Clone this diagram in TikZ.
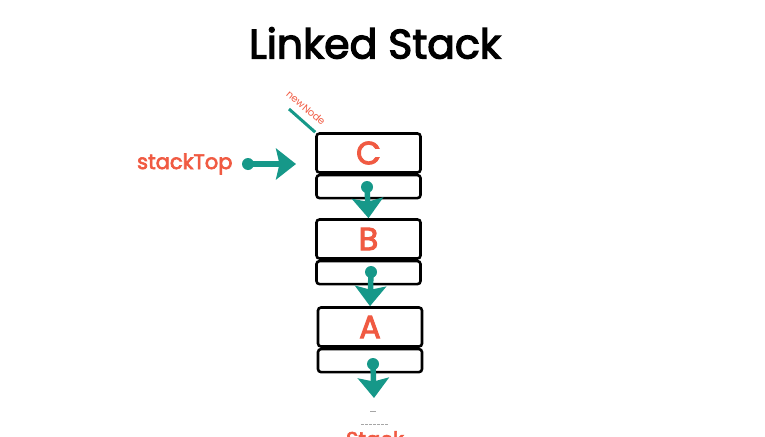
\documentclass[tikz,border=0pt]{standalone}
\usepackage{xcolor}
\usepackage{tikz}
\usepackage{fontspec}
\setmainfont{Poppins}
\newfontfamily\medfont{Poppins}[FakeBold=3]
\usetikzlibrary{positioning,arrows.meta,calc}

\definecolor{stackred}{RGB}{240,90,66}
\definecolor{stackteal}{RGB}{22,152,137}

\tikzset{
    datapart/.style={draw=black, line width=2.6pt, rounded corners=3pt, fill=white,
        minimum width=104pt, minimum height=39pt, inner sep=0pt,
        text=stackred, font=\fontsize{32}{32}\medfont},
    nextpart/.style={draw=black, line width=2.6pt, rounded corners=3pt, fill=white,
        minimum width=104pt, minimum height=23pt, inner sep=0pt},
    dot/.style={circle, fill=stackteal, minimum size=12pt, inner sep=0pt},
    link/.style={stackteal, line width=5.5pt, -{Stealth[width=31pt,length=20pt,inset=3.5pt]}},
}

\begin{document}
\begin{tikzpicture}[x=1pt, y=-1pt]
    \useasboundingbox (0,0) rectangle (765,436);
    \clip (0,0) rectangle (765,436);

    % Title
    \node[font=\fontsize{41}{41}\medfont] (title) at (375,43) {Linked Stack};

    % Node C (top of stack)
    \node[datapart] (nodec) at (368.5,153) {C};
    \node[nextpart, below=0pt of nodec] (nextc) {};
    % Node B
    \node[datapart] (nodeb) at (368.5,239) {B};
    \node[nextpart, below=0pt of nodeb] (nextb) {};
    % Node A
    \node[datapart] (nodea) at (370,327) {A};
    \node[nextpart, below=0pt of nodea] (nexta) {};

    % Next pointers
    \node[dot] (dotc) at (367,187) {};
    \node[dot] (dotb) at (371,272) {};
    \node[dot] (dota) at (373,364) {};
    \coordinate (nullend) at (374,398);
    \draw[link] (dotc.center) -- (nodeb.north);
    \draw[link] (dotb.center) -- (nodea.north);
    \draw[link] (dota.center) -- (nullend);

    % stackTop pointer
    \node[text=stackred, font=\fontsize{21}{21}\medfont, anchor=east] (stacktop) at (236,164) {stackTop};
    \node[dot] (topdot) at (248,164) {};
    \coordinate (toptip) at (296,164);
    \draw[link] (topdot.center) -- (toptip);

    % newNode label
    \coordinate (newstart) at (289,109);
    \draw[stackteal, line width=3pt] (newstart) -- (nodec.north west);
    \node[text=stackred, font=\fontsize{10}{10}\selectfont, rotate=-40] (newnode) at (306,108) {newNode};

    % Null end
    \draw[gray!70, line width=1pt] (370,411) -- (376,411);
    \draw[gray!70, line width=1pt, dash pattern=on 3pt off 1pt] (361,424) -- (388,424);
    \node[text=stackred, font=\fontsize{21}{21}\medfont, anchor=north, inner sep=0pt] (stacklabel) at (375,431) {Stack};
\end{tikzpicture}
\end{document}
